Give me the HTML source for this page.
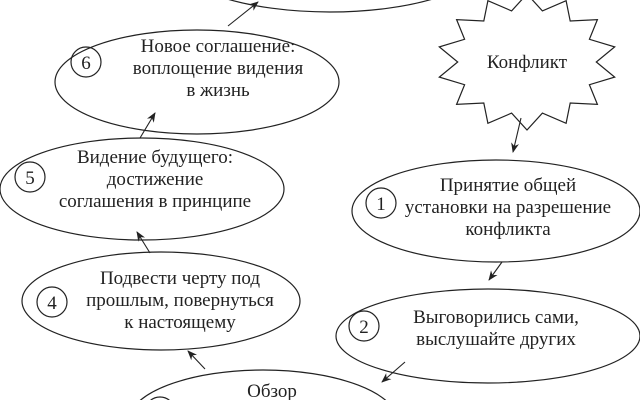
<!DOCTYPE html>
<html><head><meta charset="utf-8"><style>
html,body{margin:0;padding:0;background:#fff;overflow:hidden;width:640px;height:400px;}
svg{display:block;overflow:hidden;}
text{font-family:"Liberation Serif",serif;font-size:19px;fill:#222;}
</style></head><body>
<svg width="640" height="400" viewBox="0 0 640 400" xmlns="http://www.w3.org/2000/svg">
<defs><marker id="a" markerWidth="10" markerHeight="8" refX="9" refY="4" orient="auto" markerUnits="userSpaceOnUse"><path d="M0,0 L10,4 L0,8 L3,4 Z" fill="#222"/></marker></defs>
<g fill="none" stroke="#222" stroke-width="1.2">
<ellipse cx="330" cy="-42" rx="158" ry="54"/>
<ellipse cx="197" cy="82" rx="142" ry="52"/>
<ellipse cx="142" cy="189" rx="142" ry="51"/>
<ellipse cx="161" cy="301" rx="139" ry="49"/>
<ellipse cx="496" cy="211" rx="144" ry="51"/>
<ellipse cx="488" cy="336" rx="152" ry="47"/>
<ellipse cx="263" cy="422" rx="135" ry="52"/>
<circle cx="86" cy="62" r="15"/>
<circle cx="30" cy="177" r="15"/>
<circle cx="52" cy="302" r="15"/>
<circle cx="381" cy="203" r="15"/>
<circle cx="364" cy="326" r="15"/>
<circle cx="160" cy="412" r="15"/>
<polygon fill="#fff" points="527,-6 542.4,10.9 566.1,0.7 570.2,21 597.4,19.6 589.4,39.3 614.7,46.9 596.3,62 614.7,77.1 589.4,84.7 597.4,104.4 570.2,103 566.1,123.3 542.4,113.1 527,130 511.6,113.1 487.9,123.3 483.8,103 456.6,104.4 464.6,84.7 439.3,77.1 457.7,62 439.3,46.9 464.6,39.3 456.6,19.6 483.8,21 487.9,0.7 511.6,10.9"/>
</g>
<g stroke="#222" stroke-width="1.1" marker-end="url(#a)">
<line x1="228" y1="26" x2="258" y2="2"/>
<line x1="140" y1="138" x2="155" y2="113"/>
<line x1="150" y1="253" x2="137" y2="232"/>
<line x1="205" y1="369" x2="188" y2="351"/>
<line x1="405" y1="362" x2="382" y2="382"/>
<line x1="502" y1="262" x2="489" y2="280"/>
<line x1="521" y1="118" x2="513" y2="152"/>
</g>
<g text-anchor="middle">
<text x="86" y="69">6</text>
<text x="30" y="184">5</text>
<text x="52" y="309">4</text>
<text x="381" y="210">1</text>
<text x="364" y="333">2</text>
<text x="527" y="68">Конфликт</text>
<text x="218" y="52">Новое соглашение:</text>
<text x="218" y="74">воплощение видения</text>
<text x="218" y="96">в жизнь</text>
<text x="155" y="163">Видение будущего:</text>
<text x="155" y="185">достижение</text>
<text x="155" y="207">соглашения в принципе</text>
<text x="180" y="284">Подвести черту под</text>
<text x="180" y="306">прошлым, повернуться</text>
<text x="180" y="328">к настоящему</text>
<text x="508" y="191">Принятие общей</text>
<text x="508" y="213">установки на разрешение</text>
<text x="508" y="235">конфликта</text>
<text x="496" y="323">Выговорились сами,</text>
<text x="496" y="345">выслушайте других</text>
<text x="272" y="397">Обзор</text>
</g>
</svg>
</body></html>
